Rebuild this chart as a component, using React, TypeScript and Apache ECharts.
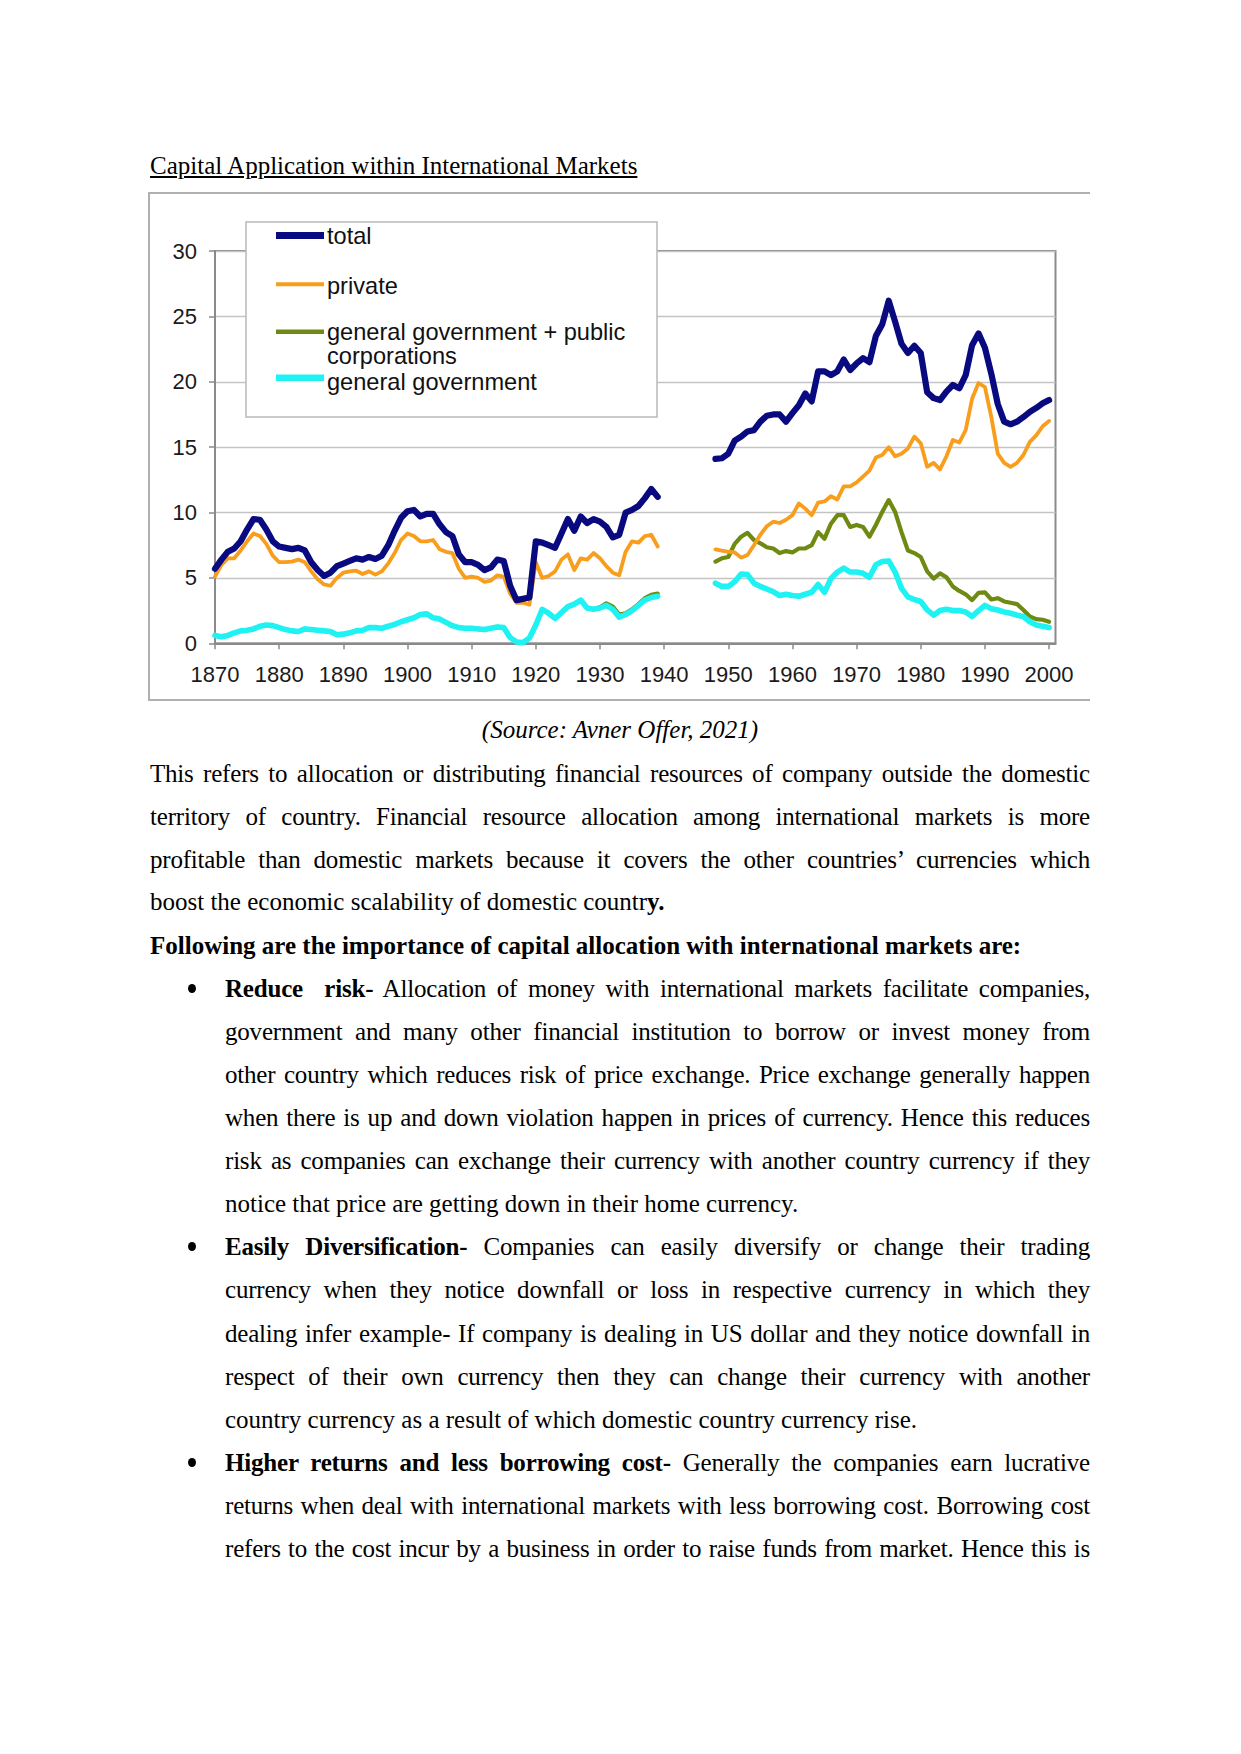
import React, { useEffect, useRef } from "react";
import * as echarts from "echarts";

// ---------- chart data ----------
const range = (a: number, b: number) => {
  const r: number[] = [];
  for (let y = a; y <= b; y++) r.push(y);
  return r;
};
const YEARS_PRE = range(1870, 1939);
const YEARS_POST = range(1948, 2000);

const TOTAL_PRE = [
  5.7, 6.4, 7.0, 7.25, 7.8, 8.7, 9.5, 9.45, 8.7, 7.8,
  7.4, 7.3, 7.2, 7.3, 7.1, 6.2, 5.6, 5.15, 5.4, 5.9,
  6.1, 6.3, 6.5, 6.4, 6.6, 6.45, 6.7, 7.5, 8.6, 9.6,
  10.1, 10.2, 9.7, 9.9, 9.9, 9.1, 8.5, 8.2, 6.8, 6.2,
  6.2, 6.0, 5.6, 5.8, 6.4, 6.3, 4.4, 3.3, 3.4, 3.5,
  7.8, 7.7, 7.5, 7.3, 8.4, 9.5, 8.6, 9.7, 9.2, 9.5,
  9.3, 8.9, 8.1, 8.3, 10.0, 10.2, 10.5, 11.1, 11.8, 11.2,
];
const TOTAL_POST = [
  14.1, 14.15, 14.5, 15.5, 15.8, 16.2, 16.3, 16.95, 17.4, 17.5,
  17.5, 16.95, 17.6, 18.2, 19.1, 18.5, 20.8, 20.8, 20.5, 20.8,
  21.7, 20.9, 21.4, 21.8, 21.5, 23.5, 24.4, 26.2, 24.6, 22.9,
  22.2, 22.75, 22.2, 19.2, 18.75, 18.6, 19.25, 19.75, 19.5, 20.5,
  22.8, 23.7, 22.6, 20.6, 18.3, 16.95, 16.75, 16.95, 17.3, 17.7,
  18.0, 18.35, 18.6,
];

const PRIVATE_PRE = [
  5.1, 6.0, 6.5, 6.5, 7.1, 7.8, 8.4, 8.2, 7.6, 6.7,
  6.2, 6.2, 6.25, 6.4, 6.2, 5.5, 4.9, 4.5, 4.4, 5.0,
  5.4, 5.5, 5.55, 5.3, 5.5, 5.25, 5.5, 6.1, 6.9, 7.9,
  8.4, 8.2, 7.8, 7.8, 7.9, 7.2, 7.0, 6.9, 5.7, 5.0,
  5.1, 5.0, 4.7, 4.8, 5.2, 5.1, 3.8, 3.1, 3.1, 2.95,
  6.2, 5.0, 5.15, 5.5, 6.4, 6.8, 5.6, 6.5, 6.4, 6.9,
  6.5, 5.9, 5.4, 5.2, 7.0, 7.8, 7.7, 8.2, 8.3, 7.4,
];
const PRIVATE_POST = [
  7.18, 7.08, 7.0, 6.95, 6.55, 6.75, 7.5, 8.3, 8.95, 9.3,
  9.2, 9.45, 9.8, 10.7, 10.3, 9.8, 10.75, 10.85, 11.25, 11.0,
  12.0, 12.0, 12.3, 12.75, 13.2, 14.2, 14.4, 15.0, 14.3, 14.5,
  14.9, 15.8, 15.3, 13.5, 13.8, 13.3, 14.3, 15.55, 15.35, 16.3,
  18.7, 19.9, 19.6, 17.3, 14.5, 13.8, 13.5, 13.8, 14.4, 15.4,
  15.9, 16.6, 17.0,
];

const GOVPUB_PRE = [
  0.6, 0.5, 0.6, 0.8, 0.95, 1.0, 1.1, 1.3, 1.4, 1.35,
  1.2, 1.05, 0.95, 0.9, 1.1, 1.05, 1.0, 0.95, 0.9, 0.65,
  0.7, 0.8, 0.95, 1.0, 1.2, 1.2, 1.15, 1.3, 1.45, 1.65,
  1.8, 1.95, 2.2, 2.25, 1.95, 1.85, 1.6, 1.35, 1.2, 1.15,
  1.15, 1.1, 1.05, 1.15, 1.25, 1.2, 0.45, 0.1, 0.05, 0.4,
  1.4, 2.6, 2.3, 1.9, 2.35, 2.8, 3.0, 3.3, 2.7, 2.6,
  2.75, 3.05, 2.8, 2.2, 2.3, 2.6, 3.0, 3.45, 3.7, 3.8,
];
const GOVPUB_POST = [
  6.25, 6.5, 6.6, 7.6, 8.15, 8.45, 7.9, 7.65, 7.35, 7.25,
  6.9, 7.05, 6.95, 7.25, 7.25, 7.5, 8.5, 8.0, 9.15, 9.8,
  9.8, 8.9, 9.05, 8.9, 8.15, 9.05, 10.05, 10.95, 10.05, 8.5,
  7.1, 6.9, 6.6, 5.5, 4.95, 5.35, 5.05, 4.35, 4.0, 3.75,
  3.3, 3.85, 3.9, 3.35, 3.45, 3.2, 3.1, 3.0, 2.55, 2.05,
  1.85, 1.8, 1.65,
];

const GOV_PRE = [
  0.6, 0.5, 0.6, 0.8, 0.95, 1.0, 1.1, 1.3, 1.4, 1.35,
  1.2, 1.05, 0.95, 0.9, 1.1, 1.05, 1.0, 0.95, 0.9, 0.65,
  0.7, 0.8, 0.95, 1.0, 1.2, 1.2, 1.15, 1.3, 1.45, 1.65,
  1.8, 1.95, 2.2, 2.25, 1.95, 1.85, 1.6, 1.35, 1.2, 1.15,
  1.15, 1.1, 1.05, 1.15, 1.25, 1.2, 0.45, 0.1, 0.05, 0.4,
  1.4, 2.6, 2.3, 1.9, 2.35, 2.8, 3.0, 3.3, 2.7, 2.6,
  2.7, 2.9, 2.6, 2.0, 2.2, 2.5, 2.9, 3.3, 3.5, 3.6,
];
const GOV_POST = [
  4.6, 4.35, 4.35, 4.7, 5.3, 5.25, 4.6, 4.35, 4.15, 3.95,
  3.65, 3.75, 3.65, 3.6, 3.75, 3.9, 4.5, 3.9, 4.95, 5.45,
  5.75, 5.45, 5.45, 5.35, 5.05, 6.0, 6.25, 6.3, 5.45, 4.2,
  3.55, 3.35, 3.2, 2.55, 2.15, 2.5, 2.6, 2.5, 2.5, 2.4,
  2.05, 2.5, 2.9, 2.65, 2.55, 2.4, 2.3, 2.15, 2.05, 1.65,
  1.4, 1.3, 1.2,
];

const SERIES_NAMES = [
  "total",
  "private",
  "general government + public\ncorporations",
  "general government",
];
const X_MIN = 1870;
const X_MAX = 2001;
const X_STEP = 10;
const Y_MIN = 0;
const Y_MAX = 30;
const Y_STEP = 5;
const GAP_YEAR = 1944;

// ---------- styles ----------
const COLORS = ["#0a0a80", "#f89d1c", "#6e8a12", "#1ff2f2"];
const WIDTHS = [6.2, 3.8, 4.2, 5.6];
const ICON_WIDTHS = [7, 4, 4.5, 6.5];
const SANS = '"Liberation Sans", Arial, sans-serif';
const SERIF = '"Liberation Serif", "Times New Roman", serif';

const toPairs = (pre: number[], post: number[]) => [
  ...YEARS_PRE.map((y, i) => [y, pre[i]]),
  [GAP_YEAR, "-"],
  ...YEARS_POST.map((y, i) => [y, post[i]]),
];

function Chart() {
  const ref = useRef<HTMLDivElement>(null);
  useEffect(() => {
    if (!ref.current) return;
    const chart = echarts.init(ref.current, undefined, { renderer: "svg" });
    const seriesData = [
      toPairs(TOTAL_PRE, TOTAL_POST),
      toPairs(PRIVATE_PRE, PRIVATE_POST),
      toPairs(GOVPUB_PRE, GOVPUB_POST),
      toPairs(GOV_PRE, GOV_POST),
    ];
    // drawing order: green, cyan, private, total (total on top)
    const drawOrder = [2, 3, 1, 0];
    const iconY = [42.5, 91.3, 138.7, 184.7];
    const textTop = [30.5, 80.4, 126.6, 176.6];
    const legendGraphics: any[] = [
      {
        type: "rect",
        z: 100,
        shape: { x: 96, y: 29, width: 411, height: 195 },
        style: { fill: "#ffffff", stroke: "#b9b9b9", lineWidth: 1.5 },
      },
    ];
    SERIES_NAMES.forEach((name, i) => {
      legendGraphics.push({
        type: "line",
        z: 101,
        shape: { x1: 126, y1: iconY[i], x2: 174, y2: iconY[i] },
        style: { stroke: COLORS[i], lineWidth: ICON_WIDTHS[i] },
      });
      legendGraphics.push({
        type: "text",
        z: 101,
        x: 177,
        y: textTop[i],
        style: {
          text: name,
          fontFamily: SANS,
          fontSize: 23.6,
          lineHeight: 24.5,
          fill: "#111111",
          verticalAlign: "top",
          align: "left",
        },
      });
    });

    chart.setOption({
      animation: false,
      grid: {
        left: 65,
        right: 34.5,
        top: 58,
        bottom: 56.7,
        show: true,
        borderColor: "#8a8a8a",
        borderWidth: 2,
        backgroundColor: "rgba(0,0,0,0)",
      },
      xAxis: {
        type: "value",
        min: X_MIN,
        max: X_MAX,
        interval: X_STEP,
        axisLine: { show: true, lineStyle: { color: "#8a8a8a", width: 2 } },
        axisTick: { show: true, length: 6, lineStyle: { color: "#8a8a8a", width: 1.5 } },
        splitLine: { show: false },
        axisLabel: {
          fontFamily: SANS,
          fontSize: 22,
          color: "#1a1a1a",
          margin: 20.5,
          showMaxLabel: false,
          formatter: (v: number) => (v % X_STEP === 0 ? String(v) : ""),
        },
      },
      yAxis: {
        type: "value",
        min: Y_MIN,
        max: Y_MAX,
        interval: Y_STEP,
        axisLine: { show: true, lineStyle: { color: "#8a8a8a", width: 2 } },
        axisTick: { show: true, length: 6, lineStyle: { color: "#8a8a8a", width: 1.5 } },
        splitLine: { show: true, lineStyle: { color: "#c4c4c4", width: 1.3 } },
        axisLabel: { fontFamily: SANS, fontSize: 22, color: "#1a1a1a", margin: 18 },
      },
      series: drawOrder.map((i) => ({
        name: SERIES_NAMES[i],
        type: "line",
        data: seriesData[i],
        showSymbol: false,
        symbol: "none",
        connectNulls: false,
        lineStyle: { color: COLORS[i], width: WIDTHS[i], cap: "round", join: "round" },
        itemStyle: { color: COLORS[i] },
      })),
      graphic: legendGraphics,
    });
    return () => chart.dispose();
  }, []);
  return (
    <div
      ref={ref}
      style={{ position: "absolute", left: 150, top: 193, width: 940, height: 507 }}
    />
  );
}

// ---------- document text ----------
type Seg = { t: string; b?: boolean };
type DocLine = { y: number; x: number; w: number; j: boolean; segs: Seg[] };

const DOC_LINES: DocLine[] = [
  { y: 773, x: 150, w: 940, j: true, segs: [{ t: "This refers to allocation or distributing financial resources of company outside the domestic" }] },
  { y: 816, x: 150, w: 940, j: true, segs: [{ t: "territory of country. Financial resource allocation among international markets is more" }] },
  { y: 859, x: 150, w: 940, j: true, segs: [{ t: "profitable than domestic markets because it covers the other countries\u2019 currencies which" }] },
  { y: 901, x: 150, w: 940, j: false, segs: [{ t: "boost the economic scalability of domestic countr" }, { t: "y.", b: true }] },
  { y: 945, x: 150, w: 940, j: false, segs: [{ t: "Following are the importance of capital allocation with international markets are:", b: true }] },
  { y: 988, x: 225, w: 865, j: true, segs: [{ t: "Reduce\u00a0 risk-", b: true }, { t: " Allocation of money with international markets facilitate companies," }] },
  { y: 1031, x: 225, w: 865, j: true, segs: [{ t: "government and many other financial institution to borrow or invest money from" }] },
  { y: 1074, x: 225, w: 865, j: true, segs: [{ t: "other country which reduces risk of price exchange. Price exchange generally happen" }] },
  { y: 1117, x: 225, w: 865, j: true, segs: [{ t: "when there is up and down violation happen in prices of currency. Hence this reduces" }] },
  { y: 1160, x: 225, w: 865, j: true, segs: [{ t: "risk as companies can exchange their currency with another country currency if they" }] },
  { y: 1203, x: 225, w: 865, j: false, segs: [{ t: "notice that price are getting down in their home currency." }] },
  { y: 1246, x: 225, w: 865, j: true, segs: [{ t: "Easily Diversification-", b: true }, { t: " Companies can easily diversify or change their trading" }] },
  { y: 1289, x: 225, w: 865, j: true, segs: [{ t: "currency when they notice downfall or loss in respective currency in which they" }] },
  { y: 1333, x: 225, w: 865, j: true, segs: [{ t: "dealing infer example- If company is dealing in US dollar and they notice downfall in" }] },
  { y: 1376, x: 225, w: 865, j: true, segs: [{ t: "respect of their own currency then they can change their currency with another" }] },
  { y: 1419, x: 225, w: 865, j: false, segs: [{ t: "country currency as a result of which domestic country currency rise." }] },
  { y: 1462, x: 225, w: 865, j: true, segs: [{ t: "Higher returns and less borrowing cost-", b: true }, { t: " Generally the companies earn lucrative" }] },
  { y: 1505, x: 225, w: 865, j: true, segs: [{ t: "returns when deal with international markets with less borrowing cost. Borrowing cost" }] },
  { y: 1548, x: 225, w: 865, j: true, segs: [{ t: "refers to the cost incur by a business in order to raise funds from market. Hence this is" }] },
];
const BULLET_Y = [988, 1246, 1462];

const baseText: React.CSSProperties = {
  position: "absolute",
  fontFamily: SERIF,
  fontSize: 25,
  lineHeight: "43px",
  color: "#000",
  margin: 0,
  whiteSpace: "normal",
};

export default function App() {
  return (
    <div style={{ position: "absolute", left: 0, top: 0, width: 1241, height: 1754, background: "#fff" }}>
      <div style={{ ...baseText, left: 150, top: 165 - 21.5, textDecoration: "underline" }}>
        Capital Application within International Markets
      </div>
      <div
        style={{
          position: "absolute",
          left: 148,
          top: 192,
          width: 942,
          height: 509,
          boxSizing: "border-box",
          borderTop: "2px solid #b0b0b0",
          borderLeft: "2px solid #b0b0b0",
          borderBottom: "2px solid #b0b0b0",
        }}
      />
      <Chart />
      <div
        style={{
          ...baseText,
          left: 150,
          width: 940,
          top: 729 - 21.5,
          textAlign: "center",
          fontStyle: "italic",
        }}
      >
        (Source: Avner Offer, 2021)
      </div>
      {DOC_LINES.map((ln, k) => (
        <div
          key={k}
          style={{
            ...baseText,
            left: ln.x,
            width: ln.w,
            top: ln.y - 21.5,
            textAlign: ln.j ? "justify" : "left",
            textAlignLast: ln.j ? "justify" : "left",
            letterSpacing: ln.j ? "-0.2px" : "normal",
          }}
        >
          {ln.segs.map((s, i) =>
            s.b ? <b key={i}>{s.t}</b> : <span key={i}>{s.t}</span>
          )}
        </div>
      ))}
      {BULLET_Y.map((y, k) => (
        <div
          key={"b" + k}
          style={{
            position: "absolute",
            left: 188,
            top: y - 4.5,
            width: 8,
            height: 9,
            borderRadius: "50%",
            background: "#000",
          }}
        />
      ))}
    </div>
  );
}
